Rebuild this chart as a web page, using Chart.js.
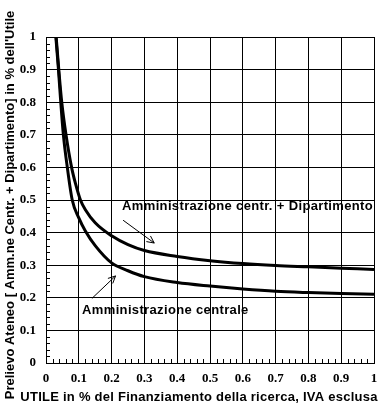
<!DOCTYPE html>
<html>
<head>
<meta charset="utf-8">
<script src="https://cdn.jsdelivr.net/npm/chart.js@4/dist/chart.umd.min.js"></script>
<style>
html,body{margin:0;padding:0;background:#fff;}
#wrap{width:381px;height:409px;position:relative;}
</style>
</head>
<body>
<div id="wrap"><canvas id="c" width="381" height="409"></canvas></div>
<script>
// Data
const xCentrale = [0.03, 0.038, 0.045, 0.053, 0.065, 0.08, 0.1, 0.12, 0.15, 0.2, 0.25, 0.3, 0.4, 0.5, 0.6, 0.7, 0.8, 0.9, 1.0];
const yCentrale = [1.0, 0.9, 0.8, 0.7, 0.6, 0.5, 0.445, 0.405, 0.36, 0.307, 0.283, 0.265, 0.247, 0.236, 0.227, 0.22, 0.216, 0.213, 0.211];
const xDip = [0.031, 0.039, 0.048, 0.061, 0.078, 0.09, 0.105, 0.12, 0.15, 0.2, 0.25, 0.3, 0.4, 0.5, 0.6, 0.7, 0.8, 0.9, 1.0];
const yDip = [1.0, 0.9, 0.8, 0.7, 0.6, 0.55, 0.5, 0.47, 0.43, 0.39, 0.363, 0.345, 0.327, 0.314, 0.305, 0.299, 0.295, 0.291, 0.287];
const tickValues = [0, 0.1, 0.2, 0.3, 0.4, 0.5, 0.6, 0.7, 0.8, 0.9, 1];
const tickLabels = ['0', '0.1', '0.2', '0.3', '0.4', '0.5', '0.6', '0.7', '0.8', '0.9', '1'];
const seriesNames = ['Amministrazione centrale', 'Amministrazione centr. + Dipartimento'];
const xTitle = 'UTILE in % del Finanziamento della ricerca, IVA esclusa';
const yTitle = "Prelievo Ateneo [ Amm.ne Centr. + Dipartimento] in % dell'Utile";
// annotation labels in data units, and arrows
const noteTexts = [seriesNames[1], seriesNames[0]];
const noteX = [0.232, 0.11];
const noteY = [0.48, 0.16];
const arrowFrom = [[0.235, 0.438], [0.14, 0.198]];
const arrowTo = [[0.33, 0.368], [0.212, 0.267]];

function pts(xs, ys){ return xs.map((x,i)=>({x:x, y:ys[i]})); }

const labelFont = {family: "'Liberation Serif', serif", size: 13, weight: 'bold'};
const TXT_FONT = "bold 13px 'Liberation Sans', Arial, sans-serif";

const extras = {
  id: 'extras',
  afterDatasetsDraw(chart){
    const ctx = chart.ctx, xs = chart.scales.x, ys = chart.scales.y;
    const a = chart.chartArea;
    ctx.save();
    ctx.strokeStyle = '#000';
    ctx.lineWidth = 1;
    // minor ticks (every 0.02) inside the axes
    for (let i = 0; i <= 50; i++) {
      if (i % 5 === 0) continue;
      const v = i / 50;
      const py = Math.round(ys.getPixelForValue(v)) + 0.5;
      ctx.beginPath(); ctx.moveTo(a.left, py); ctx.lineTo(a.left + 4, py); ctx.stroke();
      const px = Math.round(xs.getPixelForValue(v)) + 0.5;
      ctx.beginPath(); ctx.moveTo(px, a.bottom); ctx.lineTo(px, a.bottom - 4); ctx.stroke();
    }
    ctx.fillStyle = '#000';
    ctx.font = TXT_FONT;
    ctx.textBaseline = 'middle';
    // annotation texts
    ctx.textAlign = 'left';
    ctx.letterSpacing = '0.35px';
    for (let i = 0; i < noteTexts.length; i++) {
      ctx.fillText(noteTexts[i], xs.getPixelForValue(noteX[i]), ys.getPixelForValue(noteY[i]));
    }
    // axis titles
    ctx.textAlign = 'center';
    ctx.letterSpacing = '0.25px';
    ctx.fillText(xTitle, 199, chart.height - 12);
    ctx.letterSpacing = '0px';
    ctx.save();
    ctx.translate(10, 205);
    ctx.rotate(-Math.PI / 2);
    ctx.fillText(yTitle, 0, 0);
    ctx.restore();
    // arrows
    for (let i = 0; i < arrowFrom.length; i++) {
      const x1 = xs.getPixelForValue(arrowFrom[i][0]), y1 = ys.getPixelForValue(arrowFrom[i][1]);
      const x2 = xs.getPixelForValue(arrowTo[i][0]), y2 = ys.getPixelForValue(arrowTo[i][1]);
      ctx.beginPath(); ctx.moveTo(x1, y1); ctx.lineTo(x2, y2); ctx.stroke();
      const ang = Math.atan2(y2 - y1, x2 - x1);
      const L = 8;
      ctx.beginPath();
      ctx.moveTo(x2 - L * Math.cos(ang - 0.45), y2 - L * Math.sin(ang - 0.45));
      ctx.lineTo(x2, y2);
      ctx.lineTo(x2 - L * Math.cos(ang + 0.45), y2 - L * Math.sin(ang + 0.45));
      ctx.stroke();
    }
    ctx.restore();
  }
};

new Chart(document.getElementById('c'), {
  type: 'scatter',
  data: {
    datasets: [
      {label: seriesNames[0], data: pts(xCentrale, yCentrale), showLine: true, borderColor: '#000', backgroundColor: '#000', borderWidth: 3, pointRadius: 0, cubicInterpolationMode: 'monotone'},
      {label: seriesNames[1], data: pts(xDip, yDip), showLine: true, borderColor: '#000', backgroundColor: '#000', borderWidth: 3, pointRadius: 0, cubicInterpolationMode: 'monotone'}
    ]
  },
  options: {
    responsive: false,
    animation: false,
    layout: {padding: {left: 0, right: 7, top: 37, bottom: 0}},
    plugins: {legend: {display: false}, tooltip: {enabled: false}},
    scales: {
      x: {
        type: 'linear', min: 0, max: 1,
        afterBuildTicks(s){ s.ticks = tickValues.map(v => ({value: v})); },
        afterFit(s){ s.height = 46; s.paddingLeft = 0; s.paddingRight = 0; },
        ticks: {callback: (v, i) => tickLabels[i], font: labelFont, color: '#000', padding: 8, maxRotation: 0},
        grid: {color: '#000', lineWidth: 1, drawTicks: false},
        border: {color: '#000', width: 1}
      },
      y: {
        type: 'linear', min: 0, max: 1,
        afterBuildTicks(s){ s.ticks = tickValues.map(v => ({value: v})); },
        afterFit(s){ s.width = 46; s.paddingTop = 0; s.paddingBottom = 0; },
        ticks: {callback: (v, i) => tickLabels[i], font: labelFont, color: '#000', padding: 10},
        grid: {color: '#000', lineWidth: 1, drawTicks: false},
        border: {color: '#000', width: 1}
      }
    }
  },
  plugins: [extras]
});
</script>
</body>
</html>
